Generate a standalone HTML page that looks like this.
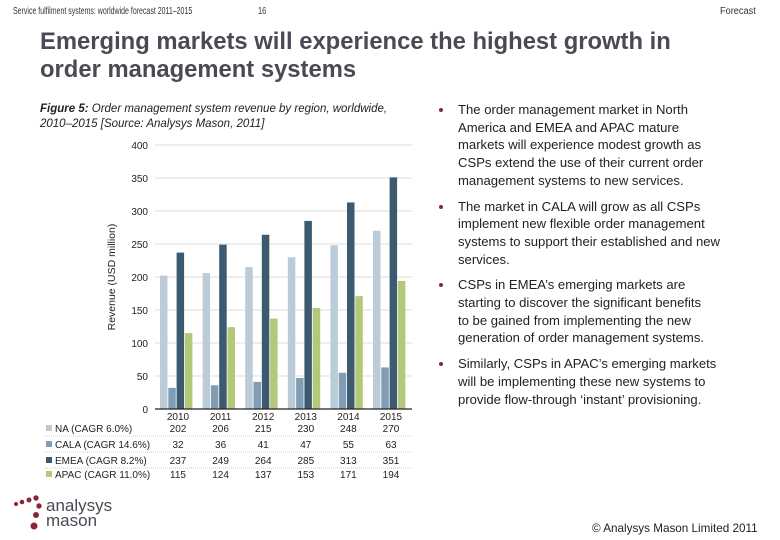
<!DOCTYPE html>
<html><head><meta charset="utf-8"><style>
body{margin:0;width:780px;height:540px;background:#fff;font-family:"Liberation Sans",Arial,sans-serif;position:relative;overflow:hidden;color:#222}
.a{position:absolute;white-space:nowrap}
ul{position:absolute;left:438px;top:101px;width:340px;margin:0;padding:0;list-style:none;font-size:13.1px;line-height:17.7px;color:#222}
li{position:relative;padding-left:20px;margin-bottom:8px;white-space:nowrap}
li:before{content:"";position:absolute;left:1px;top:7px;width:4px;height:4px;border-radius:50%;background:#8a2636}
</style></head><body>
<div class="a" style="left:13px;top:6px;font-size:10px;color:#333;transform:scaleX(0.7);transform-origin:0 0">Service fulfilment systems: worldwide forecast 2011–2015</div>
<div class="a" style="left:258px;top:6px;font-size:10px;color:#333;transform:scaleX(0.75);transform-origin:0 0">16</div>
<div class="a" style="left:720px;top:6px;font-size:10px;color:#333;transform:scaleX(0.92);transform-origin:0 0">Forecast</div>
<div class="a" style="left:40px;top:28px;font-size:23.8px;font-weight:bold;color:#4a4a55;line-height:28px">Emerging markets will experience the highest growth in<br>order management systems</div>
<div class="a" style="left:40px;top:102px;font-size:11.5px;font-style:italic;line-height:15px"><b>Figure 5:</b> Order management system revenue by region, worldwide,<br>2010–2015 [Source: Analysys Mason, 2011]</div>
<svg id="chart" class="a" style="left:0;top:0" width="430" height="490"></svg>
<ul>
<li>The order management market in North<br>America and EMEA and APAC mature<br>markets will experience modest growth as<br>CSPs extend the use of their current order<br>management systems to new services.</li>
<li>The market in CALA will grow as all CSPs<br>implement new flexible order management<br>systems to support their established and new<br>services.</li>
<li>CSPs in EMEA’s emerging markets are<br>starting to discover the significant benefits<br>to be gained from implementing the new<br>generation of order management systems.</li>
<li>Similarly, CSPs in APAC’s emerging markets<br>will be implementing these new systems to<br>provide flow-through ‘instant’ provisioning.</li>
</ul>
<svg class="a" style="left:12px;top:495px" width="36" height="40">
<circle cx="4" cy="9" r="2" fill="#8a2636"/><circle cx="10" cy="7" r="2.3" fill="#8a2636"/><circle cx="17" cy="5" r="2.5" fill="#8a2636"/><circle cx="24" cy="3" r="2.7" fill="#8a2636"/><circle cx="27" cy="11" r="2.7" fill="#8a2636"/><circle cx="24" cy="20" r="3" fill="#8a2636"/><circle cx="22" cy="31" r="3.5" fill="#8a2636"/>
</svg>
<div class="a" style="left:46px;top:498px;font-size:17px;line-height:15px;color:#4a4a55">analysys<br>mason</div>
<div class="a" style="left:592px;top:522px;font-size:11.7px;color:#222">© Analysys Mason Limited 2011</div>
<script>
const years=["2010","2011","2012","2013","2014","2015"];
const seriesNames=["NA (CAGR 6.0%)","CALA (CAGR 14.6%)","EMEA (CAGR 8.2%)","APAC (CAGR 11.0%)"];
const na=[202,206,215,230,248,270];
const cala=[32,36,41,47,55,63];
const emea=[237,249,264,285,313,351];
const apac=[115,124,137,153,171,194];
const ticks=[0,50,100,150,200,250,300,350,400];
const colors=["#bccbd8","#7f9eb5","#3e5a70","#b3c97a"];
const series=[na,cala,emea,apac];
const svg=document.getElementById('chart');const NS="http://www.w3.org/2000/svg";
function mk(t,a,txt){const e=document.createElementNS(NS,t);for(const k in a)e.setAttribute(k,a[k]);if(txt!=null)e.textContent=txt;svg.appendChild(e);return e;}
const x0=157,gw=42.6,y0=409,y1=145,vmax=400;
const y=v=>y0-(v/vmax)*(y0-y1);
const gx=i=>x0+i*gw;
ticks.forEach(t=>{
 if(t>0){const l=mk('line',{x1:155,x2:412,y1:y(t),y2:y(t),stroke:'#ddd','stroke-width':1});
 
 }
 const tx=mk('text',{x:148,y:y(t)+4,'font-size':10,'text-anchor':'end',fill:'#222'},t);
 
 
});
const yt=mk('text',{x:0,y:0,'font-size':10.5,'text-anchor':'middle',fill:'#222',transform:'translate(115,277) rotate(-90)'},'Revenue (USD million)');


series.forEach((s,si)=>{s.forEach((v,i)=>{
 const r=mk('rect',{x:gx(i)+3+si*8.3,y:y(v),width:7.5,height:y0-y(v),fill:colors[si]});
 
 
});});
const ax=mk('line',{x1:155,x2:412,y1:y0,y2:y0,stroke:'#222','stroke-width':1.3});


years.forEach((yr,i)=>{const t=mk('text',{x:gx(i)+21,y:420,'font-size':10,'text-anchor':'middle',fill:'#222'},yr);
 
 });
const rowY=[432,448,464,478];
series.forEach((s,si)=>{
 const sw=mk('rect',{x:46,y:rowY[si]-7,width:6,height:6,fill:colors[si]});
 
 
 const lt=mk('text',{x:55,y:rowY[si],'font-size':10,fill:'#222'},seriesNames[si]);
 
 
 s.forEach((v,i)=>{const t=mk('text',{x:gx(i)+21,y:rowY[si],'font-size':10,'text-anchor':'middle',fill:'#222'},v);
  
  });
 if(si<3){const l=mk('line',{x1:45,x2:412,y1:rowY[si]+4,y2:rowY[si]+4,stroke:'#ccc','stroke-dasharray':'1,1'});
 
 }
});
</script>
</body></html>
